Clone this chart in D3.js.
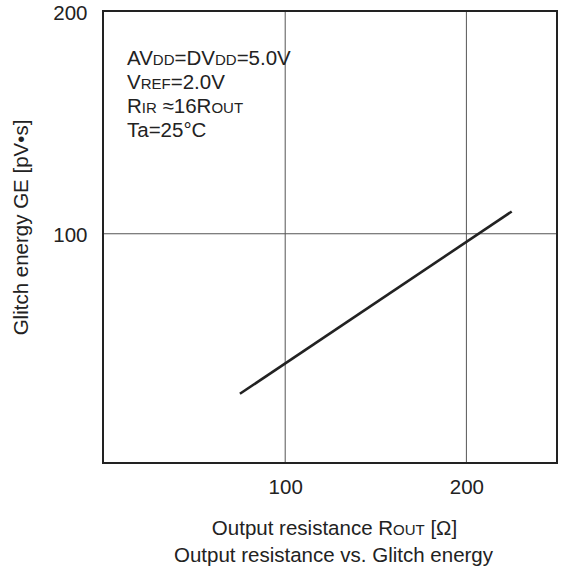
<!DOCTYPE html>
<html>
<head>
<meta charset="utf-8">
<script src="https://cdn.jsdelivr.net/npm/d3@7"></script>
<style>
  body { margin: 0; background: #fff; }
  svg text { font-family: 'Liberation Sans', Arial, sans-serif; }
</style>
</head>
<body>
<script>
// chart data
const xTicks = [100, 200]
const yTicks = [100, 200]
const lineX = [75, 225]
const lineY = [28, 110]
const notes = [
  [['AV', ''], ['DD', 's'], ['=DV', ''], ['DD', 's'], ['=5.0V', '']],
  [['V', ''], ['REF', 's'], ['=2.0V', '']],
  [['R', ''], ['IR', 's'], [' \u224816R', ''], ['OUT', 's']],
  [['Ta=25\u00b0C', '']],
]

const WIDTH = 564
const HEIGHT = 573
const FS = 20.5
const SMALL = 15
const box = { left: 103, top: 11, right: 557, bottom: 463 }

const svg = d3.select('body')
  .append('svg')
  .attr('width', WIDTH)
  .attr('height', HEIGHT)

const x = d3.scaleLinear().domain([0, 250]).range([104, 557])
const y = d3.scaleLinear().domain([0, 200]).range([456, 11.5])

// grid lines
svg.append('g')
  .selectAll('line')
  .data(xTicks)
  .join('line')
  .attr('x1', d => x(d)).attr('x2', d => x(d))
  .attr('y1', box.top).attr('y2', box.bottom)
  .attr('stroke', '#555')
  .attr('stroke-width', 1)

svg.append('g')
  .selectAll('line')
  .data(yTicks.filter(d => d < 200))
  .join('line')
  .attr('x1', box.left).attr('x2', box.right)
  .attr('y1', d => y(d)).attr('y2', d => y(d))
  .attr('stroke', '#555')
  .attr('stroke-width', 1)

// tick labels
const xAxis = svg.append('g')
  .attr('transform', `translate(0, ${box.bottom})`)
  .call(d3.axisBottom(x).tickValues(xTicks).tickSize(0).tickPadding(16))
xAxis.select('.domain').remove()
xAxis.attr('font-family', null).attr('font-size', null)
xAxis.selectAll('text').attr('font-size', FS).attr('fill', '#222')

const yAxis = svg.append('g')
  .attr('transform', `translate(${box.left}, 0)`)
  .call(d3.axisLeft(y).tickValues(yTicks).tickSize(0).tickPadding(15.5))
yAxis.select('.domain').remove()
yAxis.attr('font-family', null).attr('font-size', null)
yAxis.selectAll('text').attr('font-size', FS).attr('fill', '#222').attr('dy', '0.4em')

// frame
svg.append('rect')
  .attr('x', box.left).attr('y', box.top)
  .attr('width', box.right - box.left)
  .attr('height', box.bottom - box.top)
  .attr('fill', 'none')
  .attr('stroke', '#222')
  .attr('stroke-width', 2)

// the data line
const line = d3.line().x(d => x(d[0])).y(d => y(d[1]))
svg.append('path')
  .datum(d3.zip(lineX, lineY))
  .attr('d', line)
  .attr('fill', 'none')
  .attr('stroke', '#222')
  .attr('stroke-width', 2.6)

// conditions text
const noteG = svg.append('g').attr('fill', '#222')
notes.forEach((parts, i) => {
  const t = noteG.append('text')
    .attr('x', 127)
    .attr('y', 65 + i * 24)
    .attr('font-size', FS)
  parts.forEach(([s, kind]) => {
    t.append('tspan').attr('font-size', kind === 's' ? SMALL : FS).text(s)
  })
})

// axis titles
const xt = svg.append('text')
  .attr('x', 334.5).attr('y', 535)
  .attr('text-anchor', 'middle')
  .attr('font-size', FS)
  .attr('fill', '#222')
xt.append('tspan').text('Output resistance R')
xt.append('tspan').attr('font-size', SMALL).text('OUT')
xt.append('tspan').text(' [\u03a9]')

svg.append('text')
  .attr('x', 333.5).attr('y', 562)
  .attr('text-anchor', 'middle')
  .attr('font-size', FS)
  .attr('fill', '#222')
  .text('Output resistance vs. Glitch energy')

svg.append('text')
  .attr('transform', 'translate(28, 227.5) rotate(-90)')
  .attr('text-anchor', 'middle')
  .attr('font-size', FS)
  .attr('fill', '#222')
  .text('Glitch energy GE [pV\u2022s]')
</script>
</body>
</html>
